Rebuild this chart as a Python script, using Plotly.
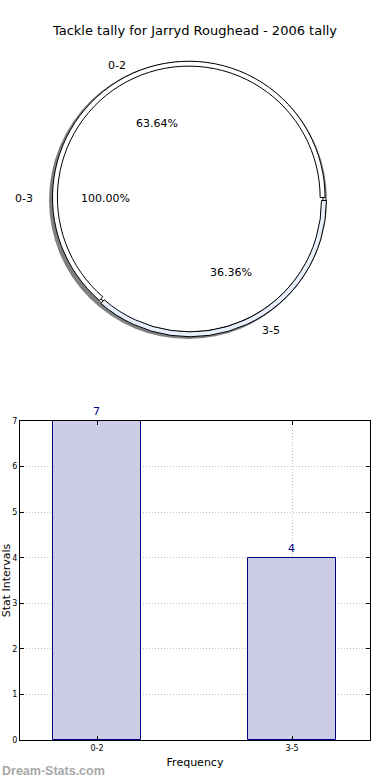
import math
import plotly.graph_objects as go

title = "Tackle tally for Jarryd Roughead - 2006 tally"
inner_labels = ["0-3"]
inner_values = [11]
outer_labels = ["0-2", "3-5"]
outer_values = [7, 4]
bar_categories = ["0-2", "3-5"]
bar_values = [7, 4]

W, H = 390, 780

def px_dom(x0, x1, y0, y1):
    return dict(x=[x0 / W, x1 / W], y=[1 - y1 / H, 1 - y0 / H])

fig = go.Figure()

# pie geometry (pixels)
cx, cy = 189, 198
r_in = 134
r_ring_in = 134
r_ring_out = 139
r_fill = 136
sh_dx, sh_dy = -1.0, 2.0

first_frac = outer_values[0] / sum(outer_values)
outer_rotation = 90 - 360 * first_frac

# shadow
fig.add_trace(go.Pie(
    labels=["shadow"], values=inner_values, sort=False,
    domain=px_dom(cx - r_ring_out + sh_dx, cx + r_ring_out + sh_dx,
                  cy - r_ring_out + sh_dy, cy + r_ring_out + sh_dy),
    marker=dict(colors=["#808080"], line=dict(width=0)),
    textinfo="none", hoverinfo="skip", showlegend=False,
))
# white filler
fig.add_trace(go.Pie(
    labels=["fill"], values=inner_values, sort=False,
    domain=px_dom(cx - r_fill, cx + r_fill, cy - r_fill, cy + r_fill),
    marker=dict(colors=["white"], line=dict(width=0)),
    textinfo="none", hoverinfo="skip", showlegend=False,
))
# inner pie
fig.add_trace(go.Pie(
    labels=inner_labels, values=inner_values, sort=False,
    domain=px_dom(cx - r_in, cx + r_in, cy - r_in, cy + r_in),
    marker=dict(colors=["white"], line=dict(color="black", width=1)),
    textinfo="none", hoverinfo="skip", showlegend=False,
    rotation=90, direction="counterclockwise",
))
# outer ring
fig.add_trace(go.Pie(
    labels=outer_labels, values=outer_values, sort=False,
    domain=px_dom(cx - r_ring_out, cx + r_ring_out, cy - r_ring_out, cy + r_ring_out),
    hole=r_ring_in / r_ring_out,
    pull=[0.004, 0.02],
    marker=dict(colors=["white", "#e8effc"], line=dict(color="black", width=1)),
    textinfo="none", hoverinfo="skip", showlegend=False,
    rotation=outer_rotation, direction="counterclockwise",
))

annotations = []
font = dict(family="DejaVu Sans", size=11, color="black")

def add_pie_texts(labels, values, ccx, ccy, rx, ry, pct_d, lab_d):
    total = sum(values)
    start = 0.0
    for lab, v in zip(labels, values):
        frac = v / total
        mid = math.radians((start + frac / 2) * 360)
        start += frac
        c, s = math.cos(mid), math.sin(mid)
        annotations.append(dict(
            x=(ccx + pct_d * rx * c) / W, y=1 - (ccy - pct_d * ry * s) / H,
            xref="paper", yref="paper", text=f"{frac * 100:.2f}%",
            showarrow=False, font=font, xanchor="center", yanchor="middle"))
        annotations.append(dict(
            x=(ccx + lab_d * rx * c) / W, y=1 - (ccy - lab_d * ry * s) / H,
            xref="paper", yref="paper", text=lab,
            showarrow=False, font=font,
            xanchor="right" if c < -1e-9 else ("left" if c > 1e-9 else "center"),
            yanchor="middle"))

add_pie_texts(inner_labels, inner_values, 189, 198, 140, 128, 0.6, 1.1)
add_pie_texts(outer_labels, outer_values, 194, 198, 140, 128, 0.64, 1.14)

# bar chart
fig.add_trace(go.Bar(
    x=bar_categories, y=bar_values, width=0.45,
    marker=dict(color="#ccccE5", line=dict(color="#000080", width=1)),
    text=[str(v) for v in bar_values], textposition="outside",
    textfont=dict(color="#000080", size=11, family="DejaVu Sans"),
    cliponaxis=False, hoverinfo="skip", showlegend=False,
))

annotations.append(dict(
    x=0, y=1 - 771 / H, xref="paper", yref="paper", text="<b>Dream-Stats.com</b>",
    showarrow=False, xanchor="left", yanchor="middle",
    font=dict(family="Liberation Sans", size=12.5, color="#a8a8a8")))

axis_common = dict(
    showline=True, linecolor="black", linewidth=1, mirror="allticks",
    ticks="inside", ticklen=4, tickcolor="black",
    showgrid=True, gridcolor="#c0c0c0", griddash="1px,2px", gridwidth=1,
    tickfont=dict(family="DejaVu Sans", size=8, color="black"),
    zeroline=False, automargin=False,
)

fig.update_layout(
    width=W, height=H, margin=dict(l=0, r=0, t=0, b=0),
    paper_bgcolor="white", plot_bgcolor="white",
    title=dict(text=title, x=0.5, xanchor="center", y=1 - 30 / H, yanchor="middle",
               font=dict(family="DejaVu Sans", size=13, color="black")),
    xaxis=dict(domain=[20 / W, 370 / W], range=[-0.395, 1.4], **axis_common,
               title=dict(text="Frequency", standoff=6,
                          font=dict(family="DejaVu Sans", size=11, color="black"))),
    yaxis=dict(domain=[1 - 740 / H, 1 - 421 / H], range=[0, 7], dtick=1, **axis_common,
               title=dict(text="Stat Intervals", standoff=2,
                          font=dict(family="DejaVu Sans", size=11, color="black"))),
    annotations=annotations,
    bargap=0,
)

fig.write_html("out.html", config={"displayModeBar": False},
               post_script="document.body.style.margin='0px';document.body.style.overflow='hidden';")
